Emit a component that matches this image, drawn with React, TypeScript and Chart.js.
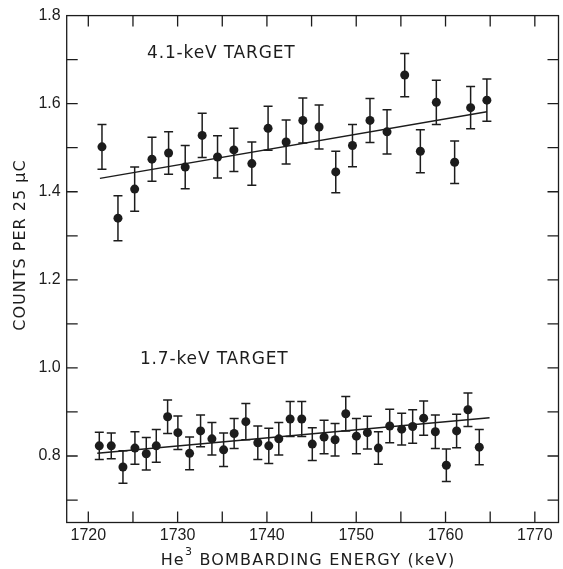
import React, { useEffect, useRef } from "react";
import { Chart, registerables } from "chart.js";

Chart.register(...registerables);

// ---- data ----
const upperEnergy = [1721.53, 1723.32, 1725.19, 1727.13, 1728.99, 1730.85, 1732.75, 1734.47, 1736.3, 1738.31, 1740.13, 1742.15, 1744.02, 1745.84, 1747.71, 1749.58, 1751.54, 1753.45, 1755.43, 1757.18, 1758.97, 1761.02, 1762.81, 1764.63];
const upperCounts = [1.502, 1.340, 1.406, 1.474, 1.488, 1.456, 1.528, 1.479, 1.495, 1.464, 1.544, 1.513, 1.562, 1.547, 1.445, 1.505, 1.562, 1.536, 1.665, 1.492, 1.603, 1.467, 1.591, 1.608];
const upperErr = [0.051, 0.051, 0.05, 0.05, 0.048, 0.049, 0.05, 0.048, 0.049, 0.049, 0.05, 0.05, 0.051, 0.05, 0.047, 0.048, 0.05, 0.05, 0.049, 0.049, 0.05, 0.048, 0.048, 0.048];

const lowerEnergy = [1721.23, 1722.57, 1723.88, 1725.22, 1726.49, 1727.61, 1728.88, 1730.03, 1731.34, 1732.57, 1733.84, 1735.15, 1736.33, 1737.64, 1738.98, 1740.21, 1741.33, 1742.6, 1743.9, 1745.08, 1746.4, 1747.63, 1748.83, 1750.02, 1751.25, 1752.48, 1753.75, 1755.09, 1756.32, 1757.55, 1758.86, 1760.09, 1761.24, 1762.51, 1763.78];
const lowerCounts = [0.823, 0.823, 0.775, 0.818, 0.805, 0.823, 0.889, 0.853, 0.806, 0.857, 0.839, 0.814, 0.851, 0.878, 0.830, 0.823, 0.839, 0.884, 0.884, 0.827, 0.843, 0.837, 0.896, 0.845, 0.853, 0.818, 0.868, 0.861, 0.867, 0.886, 0.855, 0.779, 0.857, 0.905, 0.820];
const lowerErr = [0.031, 0.029, 0.037, 0.037, 0.037, 0.037, 0.038, 0.038, 0.037, 0.036, 0.037, 0.038, 0.034, 0.041, 0.038, 0.04, 0.037, 0.04, 0.04, 0.037, 0.038, 0.037, 0.039, 0.04, 0.037, 0.037, 0.038, 0.036, 0.038, 0.039, 0.038, 0.037, 0.038, 0.038, 0.04];

const upperFitEnergy = [1721.3, 1764.63];
const upperFitCounts = [1.4304, 1.5816];
const lowerFitEnergy = [1721.0, 1764.93];
const lowerFitCounts = [0.8061, 0.8869];

const xTickValues = [1720, 1725, 1730, 1735, 1740, 1745, 1750, 1755, 1760, 1765, 1770];
const xLabelValues = [1720, 1730, 1740, 1750, 1760, 1770];
const yTickValues = [0.7, 0.8, 0.9, 1.0, 1.1, 1.2, 1.3, 1.4, 1.5, 1.6, 1.7, 1.8];
const yLabelValues = [0.8, 1.0, 1.2, 1.4, 1.6, 1.8];

const seriesLabels = ["4.1-keV TARGET", "1.7-keV TARGET"];
const seriesLabelPos = [
  { x: 1726.57, y: 1.7137 },
  { x: 1725.78, y: 1.0186 },
];
const xTitleParts = ["He", "3", " BOMBARDING ENERGY (keV)"];
const yTitle = "COUNTS PER 25 \u03bcC";

const X_MIN = 1717.58;
const X_MAX = 1772.65;
const Y_MIN = 0.649;
const Y_MAX = 1.8;

const INK = "#1c1c1c";
const TICK_FONT = '"Liberation Sans", sans-serif';
const TEXT_FONT = '"DejaVu Sans", sans-serif';

const errorBarPlugin = {
  id: "errorBars",
  beforeDatasetsDraw(chart: any) {
    const { ctx, scales } = chart;
    const xs = scales.x;
    const ys = scales.y;
    const sets = [
      { e: upperEnergy, c: upperCounts, d: upperErr },
      { e: lowerEnergy, c: lowerCounts, d: lowerErr },
    ];
    ctx.save();
    ctx.strokeStyle = INK;
    ctx.lineWidth = 1.5;
    ctx.beginPath();
    for (const s of sets) {
      for (let i = 0; i < s.e.length; i++) {
        const px = xs.getPixelForValue(s.e[i]);
        const top = ys.getPixelForValue(s.c[i] + s.d[i]);
        const bot = ys.getPixelForValue(s.c[i] - s.d[i]);
        ctx.moveTo(px, top);
        ctx.lineTo(px, bot);
        ctx.moveTo(px - 4.5, top);
        ctx.lineTo(px + 4.5, top);
        ctx.moveTo(px - 4.5, bot);
        ctx.lineTo(px + 4.5, bot);
      }
    }
    ctx.stroke();
    ctx.restore();
  },
};

const framePlugin = {
  id: "frame",
  afterDraw(chart: any) {
    const { ctx, chartArea: a, scales } = chart;
    const xs = scales.x;
    const ys = scales.y;
    ctx.save();
    ctx.strokeStyle = INK;
    ctx.lineWidth = 1.3;
    ctx.strokeRect(a.left, a.top, a.right - a.left, a.bottom - a.top);
    ctx.beginPath();
    const T = 11;
    for (const v of xTickValues) {
      const px = xs.getPixelForValue(v);
      ctx.moveTo(px, a.bottom);
      ctx.lineTo(px, a.bottom - T);
      ctx.moveTo(px, a.top);
      ctx.lineTo(px, a.top + T);
    }
    for (const v of yTickValues) {
      if (v >= Y_MAX) continue;
      const py = ys.getPixelForValue(v);
      ctx.moveTo(a.left, py);
      ctx.lineTo(a.left + T, py);
      ctx.moveTo(a.right, py);
      ctx.lineTo(a.right - T, py);
    }
    ctx.stroke();

    // series labels
    ctx.fillStyle = INK;
    ctx.textAlign = "left";
    ctx.textBaseline = "middle";
    ctx.font = `17px ${TEXT_FONT}`;
    (ctx as any).letterSpacing = "0.85px";
    seriesLabels.forEach((t, i) => {
      ctx.fillText(t, xs.getPixelForValue(seriesLabelPos[i].x), ys.getPixelForValue(seriesLabelPos[i].y));
    });

    // x title
    (ctx as any).letterSpacing = "1.2px";
    ctx.textBaseline = "alphabetic";
    const bigFont = `16px ${TEXT_FONT}`;
    const supFont = `11px ${TEXT_FONT}`;
    ctx.font = bigFont;
    const w0 = ctx.measureText(xTitleParts[0]).width;
    const w2 = ctx.measureText(xTitleParts[2]).width;
    ctx.font = supFont;
    const w1 = ctx.measureText(xTitleParts[1]).width;
    const total = w0 + w1 + w2;
    const cx = xs.getPixelForValue(1744.6);
    const base = chart.height - 4.5;
    let left = cx - total / 2;
    ctx.font = bigFont;
    ctx.fillText(xTitleParts[0], left, base);
    left += w0;
    ctx.font = supFont;
    ctx.fillText(xTitleParts[1], left, base - 10);
    left += w1;
    ctx.font = bigFont;
    ctx.fillText(xTitleParts[2], left, base);

    // y title
    (ctx as any).letterSpacing = "1px";
    ctx.translate(21, ys.getPixelForValue(1.279));
    ctx.rotate(-Math.PI / 2);
    ctx.textAlign = "center";
    ctx.textBaseline = "middle";
    ctx.font = `16px ${TEXT_FONT}`;
    ctx.fillText(yTitle, 0, 0);
    ctx.restore();
  },
};

export default function App() {
  const ref = useRef<HTMLCanvasElement | null>(null);
  useEffect(() => {
    if (!ref.current) return;
    const chart = new Chart(ref.current, {
      type: "scatter",
      data: {
        datasets: [
          {
            data: upperEnergy.map((x, i) => ({ x, y: upperCounts[i] })),
            pointRadius: 4.5,
            pointBackgroundColor: INK,
            pointBorderWidth: 0,
            showLine: false,
          },
          {
            data: lowerEnergy.map((x, i) => ({ x, y: lowerCounts[i] })),
            pointRadius: 4.5,
            pointBackgroundColor: INK,
            pointBorderWidth: 0,
            showLine: false,
          },
          {
            data: upperFitEnergy.map((x, i) => ({ x, y: upperFitCounts[i] })),
            showLine: true,
            borderColor: INK,
            borderWidth: 1.5,
            pointRadius: 0,
          },
          {
            data: lowerFitEnergy.map((x, i) => ({ x, y: lowerFitCounts[i] })),
            showLine: true,
            borderColor: INK,
            borderWidth: 1.5,
            pointRadius: 0,
          },
        ],
      },
      options: {
        animation: false,
        responsive: false,
        events: [],
        layout: { padding: { top: 15.5, right: 4, left: 0, bottom: 0 } },
        plugins: { legend: { display: false }, tooltip: { enabled: false } },
        scales: {
          x: {
            type: "linear",
            min: X_MIN,
            max: X_MAX,
            afterBuildTicks: (s: any) => {
              s.ticks = xTickValues.map((v) => ({ value: v }));
            },
            afterFit: (s: any) => {
              s.height = 46.5;
            },
            ticks: {
              autoSkip: false,
              maxRotation: 0,
              padding: 3,
              color: INK,
              font: { family: TICK_FONT, size: 16 },
              callback: (v: any) => (xLabelValues.includes(Number(v)) ? String(v) : ""),
            },
            grid: { display: false, drawTicks: false },
            border: { display: false },
          },
          y: {
            type: "linear",
            min: Y_MIN,
            max: Y_MAX,
            afterBuildTicks: (s: any) => {
              s.ticks = yTickValues.map((v) => ({ value: v }));
            },
            afterFit: (s: any) => {
              s.width = 66.7;
            },
            ticks: {
              autoSkip: false,
              padding: 6,
              color: INK,
              font: { family: TICK_FONT, size: 16 },
              callback: (v: any) =>
                yLabelValues.some((l) => Math.abs(l - Number(v)) < 1e-6) ? Number(v).toFixed(1) : "",
            },
            grid: { display: false, drawTicks: false },
            border: { display: false },
          },
        },
      },
      plugins: [errorBarPlugin, framePlugin],
    });
    return () => chart.destroy();
  }, []);
  return (
    <div style={{ position: "absolute", left: 0, top: 0, width: 563, height: 569, background: "#fff" }}>
      <canvas ref={ref} width={563} height={569} style={{ display: "block" }} />
    </div>
  );
}
